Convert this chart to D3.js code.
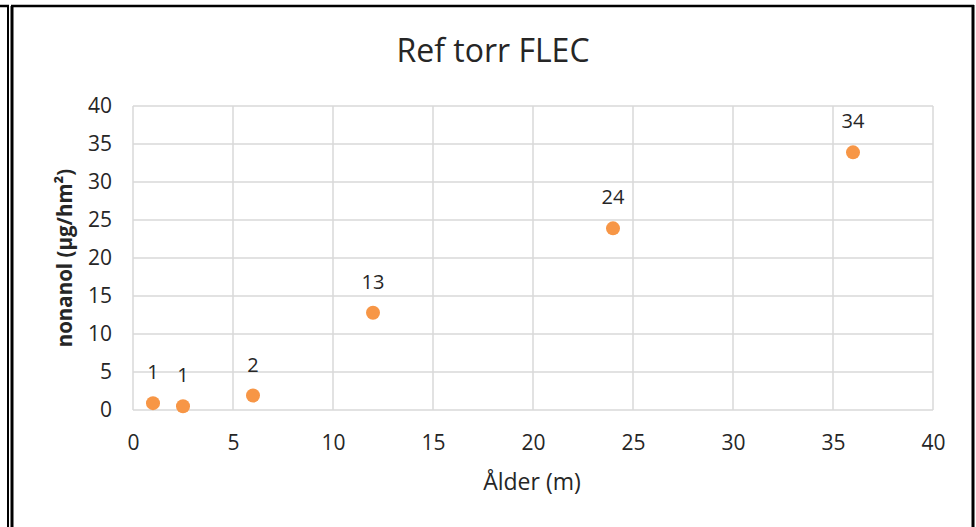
<!doctype html>
<html>
  <head>
    <script src="https://d3js.org/d3.v7.min.js"></script>
    <style>
      body { margin: 0; background: #fff; }
      text { font-family: "Open Sans", sans-serif; fill: #262626; }
    </style>
  </head>
  <body>
    <script>
    // data
    var ages = [1, 2.5, 6, 12, 24, 36];
    var nonanol = [0.9, 0.5, 1.9, 12.8, 23.9, 33.9];
    var pointLabels = ["1", "1", "2", "13", "24", "34"];
    var xTicks = [0, 5, 10, 15, 20, 25, 30, 35, 40];
    var yTicks = [0, 5, 10, 15, 20, 25, 30, 35, 40];

    var width = 976;
    var height = 527;

    var svg = d3.select("body")
              .append("svg")
              .attr("width", width)
              .attr("height", height);

    // frame lines around the chart
    svg.append("line").attr("x1", 8).attr("y1", 6).attr("x2", 8).attr("y2", height)
      .attr("stroke", "#000").attr("stroke-width", 2);
    svg.append("line").attr("x1", 12).attr("y1", 6).attr("x2", 12).attr("y2", height)
      .attr("stroke", "#000").attr("stroke-width", 3);
    svg.append("line").attr("x1", 0).attr("y1", 6).attr("x2", 9).attr("y2", 6)
      .attr("stroke", "#000").attr("stroke-width", 2.5);
    svg.append("line").attr("x1", 11).attr("y1", 6).attr("x2", 974).attr("y2", 6)
      .attr("stroke", "#000").attr("stroke-width", 2.5);
    svg.append("line").attr("x1", 973).attr("y1", 5).attr("x2", 973).attr("y2", height)
      .attr("stroke", "#000").attr("stroke-width", 3);

    var xScale = d3.scaleLinear().domain([0, 40]).range([133, 933]);
    var yScale = d3.scaleLinear().domain([0, 40]).range([410, 106]);

    //gridlines
    svg.append("g")
      .selectAll("line")
      .data(yTicks)
      .enter()
        .append("line")
        .attr("x1", xScale(0))
        .attr("x2", xScale(40))
        .attr("y1", function(d) {return yScale(d);})
        .attr("y2", function(d) {return yScale(d);})
        .attr("stroke", "#d9d9d9")
        .attr("stroke-width", 1.5);

    svg.append("g")
      .selectAll("line")
      .data(xTicks)
      .enter()
        .append("line")
        .attr("x1", function(d) {return xScale(d);})
        .attr("x2", function(d) {return xScale(d);})
        .attr("y1", yScale(0))
        .attr("y2", yScale(40))
        .attr("stroke", "#d9d9d9")
        .attr("stroke-width", 1.5);

    //tick labels
    var xAxis = d3.axisBottom(xScale).tickValues(xTicks).tickSize(0).tickPadding(25);
    var gx = svg.append("g")
      .attr("transform", "translate(0," + yScale(0) + ")")
      .call(xAxis);
    gx.select(".domain").remove();
    gx.selectAll("text").attr("font-family", "Open Sans").attr("font-size", "21px").attr("fill", "#262626");

    var yAxis = d3.axisLeft(yScale).tickValues(yTicks).tickSize(0).tickPadding(21);
    var gy = svg.append("g")
      .attr("transform", "translate(" + xScale(0) + ",0)")
      .call(yAxis);
    gy.select(".domain").remove();
    gy.selectAll("text").attr("font-family", "Open Sans").attr("font-size", "21px").attr("fill", "#262626");

    //points
    svg.append("g")
      .selectAll("circle")
      .data(ages)
      .enter()
        .append("circle")
        .attr("cx", function(d) {return xScale(d);})
        .attr("cy", function(d, i) {return yScale(nonanol[i]);})
        .attr("r", 7)
        .attr("fill", "#f79646");

    //data labels
    svg.append("g")
      .selectAll("text")
      .data(ages)
      .enter()
        .append("text")
        .attr("x", function(d) {return xScale(d);})
        .attr("y", function(d, i) {return yScale(nonanol[i]) - 24;})
        .attr("text-anchor", "middle")
        .style("font-size", "20px")
        .text(function(d, i) {return pointLabels[i];});

    //titles
    svg.append("text")
      .attr("x", 493)
      .attr("y", 62)
      .attr("text-anchor", "middle")
      .style("font-size", "32px")
      .text("Ref torr FLEC");

    svg.append("text")
      .attr("x", 532)
      .attr("y", 490)
      .attr("text-anchor", "middle")
      .style("font-size", "23px")
      .text("Ålder (m)");

    svg.append("text")
      .attr("transform", "translate(72," + yScale(20) + ") rotate(-90)")
      .attr("text-anchor", "middle")
      .style("font-size", "20.5px")
      .style("font-weight", "bold")
      .text("nonanol (µg/hm²)");
    </script>
  </body>
</html>
